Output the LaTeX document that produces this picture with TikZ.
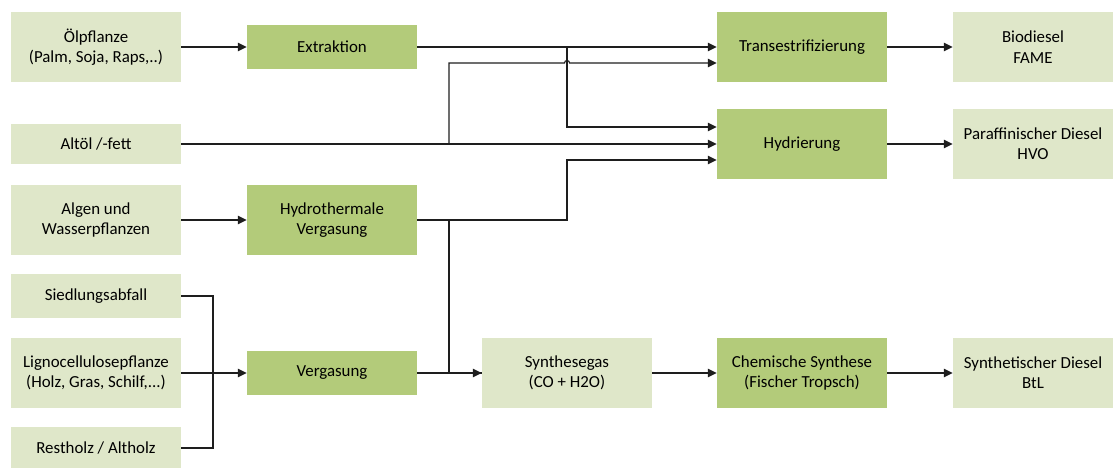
\documentclass[tikz,border=0pt]{standalone}
\usepackage{fontspec}
\setmainfont{Carlito}
\usetikzlibrary{positioning,arrows.meta,calc}
\definecolor{srcC}{RGB}{223,231,201}
\definecolor{procC}{RGB}{179,203,122}
\definecolor{lineC}{RGB}{30,30,30}
\tikzset{
	box/.style={align=center, inner sep=2pt, minimum width=4.25cm,
		font=\fontsize{12}{14.5}\selectfont},
	src/.style={box, fill=srcC, minimum height=1.725cm},
	srclow/.style={box, fill=srcC, minimum height=1.075cm},
	proc/.style={box, fill=procC, minimum height=1.725cm},
	proclow/.style={box, fill=procC, minimum height=1.1cm},
	prod/.style={box, fill=srcC, minimum width=4cm, minimum height=1.725cm},
	flow/.style={-{Triangle[length=2.2mm,width=2.1mm]}, line width=0.8pt, lineC},
	link/.style={line width=0.8pt, lineC},
}

\begin{document}
\begin{tikzpicture}[x=0.025cm, y=-0.025cm]
		\useasboundingbox (0,0) rectangle (1115,467);
		
		% ================= Rohstoffe =================
		\node[src] (oel) at (96,47) {Ölpflanze\\(Palm, Soja, Raps,..)};
		\node[srclow, minimum height=1cm] (alt) at (96,144) {Altöl /-fett};
		\node[src] (alg) at (96,220) {Algen und\\Wasserpflanzen};
		\node[srclow] (sied) at (96,296) {Siedlungsabfall};
		\node[src] (lig) at (96,373) {Lignocellulosepflanze\\(Holz, Gras, Schilf,...)};
		\node[srclow] (rest) at (96,448) {Restholz / Altholz};
		
		% ================= Verfahren =================
		\node[proclow, minimum height=1.075cm] (ext) at (332,47) {Extraktion};
		\node[proc] (hyt) at (332,220) {Hydrothermale\\Vergasung};
		\node[proclow] (verg) at (332,373) {Vergasung};
		\node[src] (syn) at (567,373) {Synthesegas\\(CO + H2O)};
		\node[proc] (trans) at (802,47) {Transestrifizierung};
		\node[proc] (hyd) at (802,144) {Hydrierung};
		\node[proc] (chem) at (802,373) {Chemische Synthese\\(Fischer Tropsch)};
		
		% ================= Produkte =================
		\node[prod] (bio) at (1033,47) {Biodiesel\\FAME};
		\node[prod] (hvo) at (1033,144) {Paraffinischer Diesel\\HVO};
		\node[prod] (btl) at (1033,373) {Synthetischer Diesel\\BtL};
		
		% Knotenpunkte
		\coordinate (jext) at (567,47);
		\coordinate (jalt) at (449,144);
		\coordinate (jhyt) at (449,220);
		\coordinate (jbio) at (213,373);
		
		% ================= Verbindungen =================
		\draw[flow] (oel) -- (ext);
		\draw[flow] (ext) -- (trans);
		\draw[flow] (jext) |- (hyd.west |- 0,127);
		\draw[flow] (alt) -- (hyd);
		\draw[flow] (jalt) -- (449,63) -- (564.5,63)
		arc[start angle=180, end angle=0, radius=1.8pt] -- (trans.west |- 0,63);
		\draw[flow] (alg) -- (hyt);
		\draw[flow] (hyt.east) -- (567,220) |- (hyd.west |- 0,160);
		\draw[link] (jhyt) |- (syn.west);
		\draw[link] (sied) -| (jbio);
		\draw[link] (rest) -| (jbio);
		\draw[flow] (lig) -- (verg);
		\draw[flow] (verg) -- (syn);
		\draw[flow] (syn) -- (chem);
		\draw[flow] (chem) -- (btl);
		\draw[flow] (trans) -- (bio);
		\draw[flow] (hyd) -- (hvo);
		
	\end{tikzpicture}
\end{document}
